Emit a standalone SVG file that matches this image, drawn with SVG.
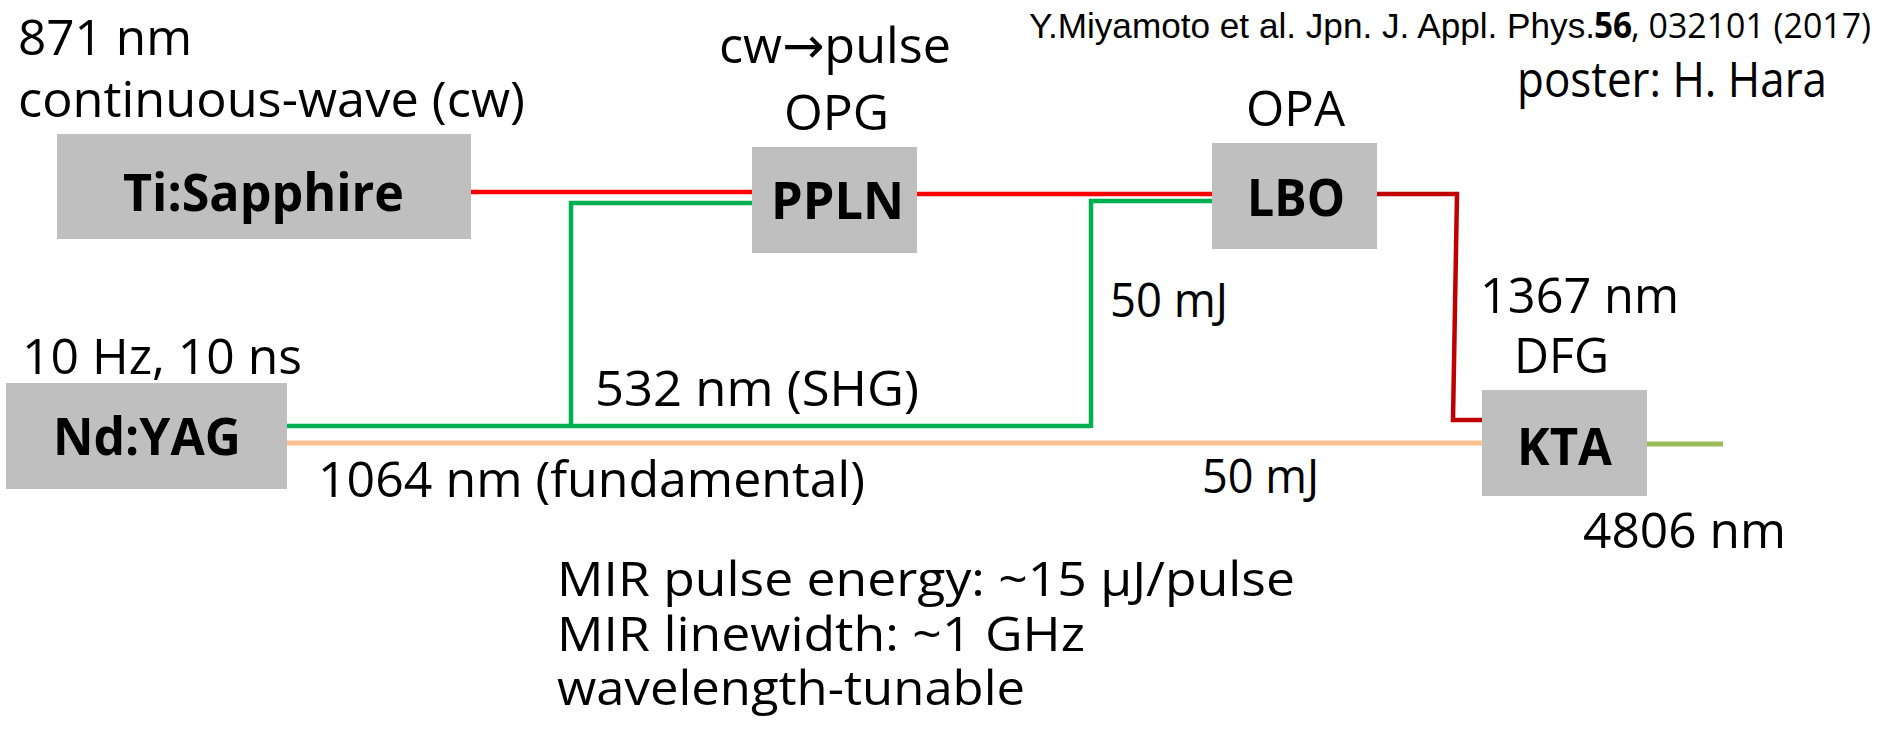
<svg xmlns="http://www.w3.org/2000/svg" width="1883" height="735" viewBox="0 0 1883 735">
<style>
text{font-family:"Open Sans","Noto Sans","DejaVu Sans",sans-serif;fill:#000}
.t{font-size:50px}
.s{font-size:47px}
.c{font-size:35px}
.ca{font-family:"Liberation Sans",Arial,sans-serif}
.b{font-size:52px;font-weight:bold}
.box{fill:#BFBFBF}
.ln{fill:none;stroke-width:4.5;stroke-linejoin:miter;stroke-linecap:butt}
.red{stroke:#FF0000}
.grn{stroke:#00B050}
.dred{stroke:#C00000}
.org{stroke:#FAC090;stroke-width:5}
.ygr{stroke:#9BBB59;stroke-width:5}
</style>
<rect width="1883" height="735" fill="#FFFFFF"/>
<g id="connectors">
<path class="ln red" d="M471,192 H752"/>
<path class="ln red" d="M917,194 H1212"/>
<path class="ln grn" d="M752,203 H571 V428"/>
<path class="ln grn" d="M287,426 H1091"/>
<path class="ln grn" d="M1212,201 H1091 V428"/>
<path class="ln dred" d="M1377,194 H1457 L1453,420 H1483"/>
<path class="ln org" d="M287,443 H1482"/>
<path class="ln ygr" d="M1647,444 H1723"/>
</g>
<g id="node-tisapphire">
<rect class="box" x="57" y="134" width="414" height="105"/>
<text class="b" x="123" y="211" textLength="281" lengthAdjust="spacingAndGlyphs">Ti:Sapphire</text>
</g>
<g id="node-ppln">
<rect class="box" x="752" y="147" width="165" height="106"/>
<text class="b" x="771" y="219" textLength="133" lengthAdjust="spacingAndGlyphs">PPLN</text>
</g>
<g id="node-lbo">
<rect class="box" x="1212" y="143" width="165" height="106"/>
<text class="b" x="1247" y="216" textLength="98" lengthAdjust="spacingAndGlyphs">LBO</text>
</g>
<g id="node-kta">
<rect class="box" x="1482" y="390" width="165" height="106"/>
<text class="b" x="1517" y="465" textLength="95" lengthAdjust="spacingAndGlyphs">KTA</text>
</g>
<g id="node-ndyag">
<rect class="box" x="6" y="383" width="281" height="106"/>
<text class="b" x="53" y="455" textLength="188" lengthAdjust="spacingAndGlyphs">Nd:YAG</text>
</g>
<g id="labels">
<text class="t" x="18" y="55" textLength="174" lengthAdjust="spacingAndGlyphs">871 nm</text>
<text class="t" x="18" y="117" textLength="507" lengthAdjust="spacingAndGlyphs">continuous-wave (cw)</text>
<text class="t" x="719" y="63" textLength="232" lengthAdjust="spacingAndGlyphs">cw→pulse</text>
<text class="t" x="784" y="130" textLength="105" lengthAdjust="spacingAndGlyphs">OPG</text>
<text class="t" x="1246" y="126" textLength="99" lengthAdjust="spacingAndGlyphs">OPA</text>
<text class="c ca" x="1029" y="38" textLength="566" lengthAdjust="spacingAndGlyphs">Y.Miyamoto et al. Jpn. J. Appl. Phys.</text>
<text class="c" x="1594" y="38" font-weight="bold" textLength="38" lengthAdjust="spacingAndGlyphs">56</text>
<text class="c" x="1631" y="38" textLength="240" lengthAdjust="spacingAndGlyphs">, 032101 (2017)</text>
<text class="t" x="1517" y="97" textLength="310" lengthAdjust="spacingAndGlyphs">poster: H. Hara</text>
<text class="s" x="1110" y="317" textLength="118" lengthAdjust="spacingAndGlyphs">50 mJ</text>
<text class="t" x="1480" y="313" textLength="199" lengthAdjust="spacingAndGlyphs">1367 nm</text>
<text class="t" x="1514" y="373" textLength="95" lengthAdjust="spacingAndGlyphs">DFG</text>
<text class="t" x="1583" y="548" textLength="203" lengthAdjust="spacingAndGlyphs">4806 nm</text>
<text class="t" x="22" y="374" textLength="280" lengthAdjust="spacingAndGlyphs">10 Hz, 10 ns</text>
<text class="t" x="595" y="406" textLength="324" lengthAdjust="spacingAndGlyphs">532 nm (SHG)</text>
<text class="t" x="318" y="497" textLength="547" lengthAdjust="spacingAndGlyphs">1064 nm (fundamental)</text>
<text class="s" x="1202" y="493" textLength="117" lengthAdjust="spacingAndGlyphs">50 mJ</text>
<text class="s" x="557" y="596" textLength="738" lengthAdjust="spacingAndGlyphs">MIR pulse energy: ~15 μJ/pulse</text>
<text class="s" x="557" y="651" textLength="528" lengthAdjust="spacingAndGlyphs">MIR linewidth: ~1 GHz</text>
<text class="s" x="557" y="705" textLength="468" lengthAdjust="spacingAndGlyphs">wavelength-tunable</text>
</g>
</svg>
